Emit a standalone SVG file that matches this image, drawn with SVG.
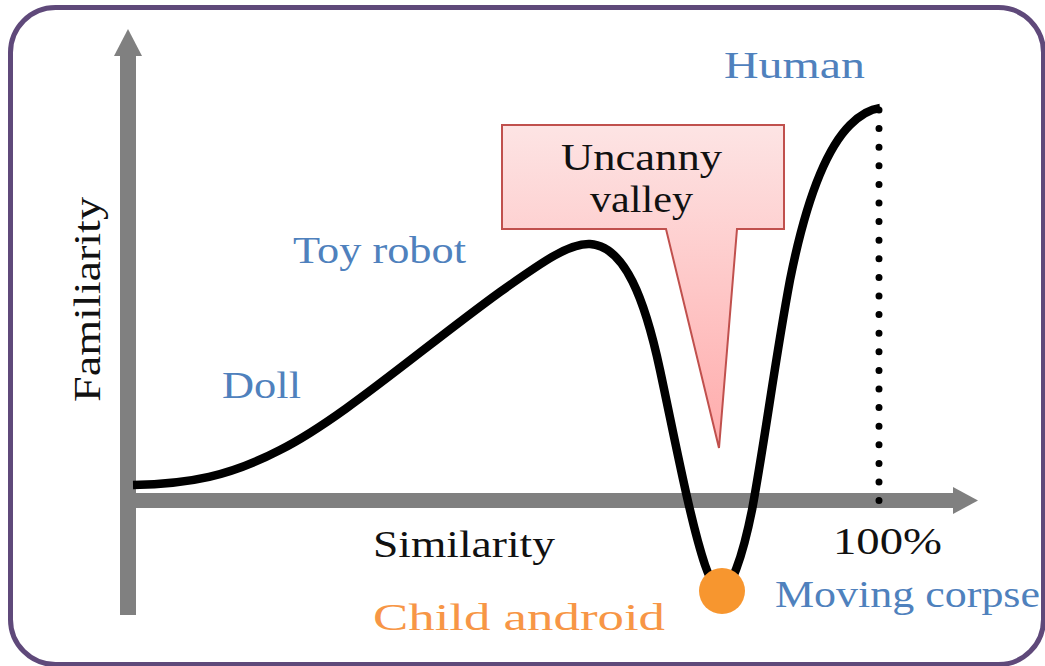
<svg xmlns="http://www.w3.org/2000/svg" width="1045" height="666" viewBox="0 0 1045 666">
<defs>
<style>
.lbl{font-family:"Liberation Serif","Times New Roman",serif;font-size:38px}
.blue{fill:#4f81bd}
.blk{fill:#111}
.orng{fill:#f79646}
.axis{fill:#808080}
</style>
<linearGradient id="callGrad" x1="0" y1="125" x2="0" y2="448" gradientUnits="userSpaceOnUse">
<stop offset="0" stop-color="#fde4e4"/>
<stop offset="1" stop-color="#ffabab"/>
</linearGradient>
</defs>
<rect x="0" y="0" width="1045" height="666" fill="#ffffff"/>
<rect id="frame" x="10.5" y="7.5" width="1033" height="657" rx="45" fill="#ffffff" stroke="#5f497a" stroke-width="5"/>

<g id="axes">
<rect class="axis" x="120" y="56" width="16" height="559"/>
<polygon class="axis" points="128,29 142,56 114,56"/>
<rect class="axis" x="120" y="493" width="835" height="15"/>
<polygon class="axis" points="953,487 978,500.5 953,514"/>
</g>

<g id="connectors">
<line x1="879" y1="110" x2="879" y2="502" stroke="#000" stroke-width="7" stroke-linecap="round" stroke-dasharray="0 18.6"/>
<path d="M133,485 C190,484 230,476 280,450 C340,420 420,350 500,292 C545,260 570,243 590,244 C625,246 645,300 660,370 C675,440 690,520 705,565 C712,585 718,592 722,591 C730,590 742,560 752,510 C765,440 775,360 790,280 C805,205 825,150 850,125 C862,113 872,109 880,108" fill="none" stroke="#000" stroke-width="8.5" stroke-linecap="butt" stroke-linejoin="round"/>
</g>

<g id="callout">
<path d="M502,125 H784 V229 H737 L719,448 L666,229 H502 Z" fill="url(#callGrad)" stroke="#c0504d" stroke-width="2"/>
<text class="lbl blk" x="561" y="170" textLength="161" lengthAdjust="spacingAndGlyphs">Uncanny</text>
<text class="lbl blk" x="590" y="212" textLength="103" lengthAdjust="spacingAndGlyphs">valley</text>
</g>

<g id="child-android">
<circle cx="722" cy="591" r="23" fill="#f7962f"/>
<text class="lbl orng" x="373" y="630" textLength="292" lengthAdjust="spacingAndGlyphs">Child android</text>
</g>

<g id="human">
<text class="lbl blue" x="724" y="78" textLength="141" lengthAdjust="spacingAndGlyphs">Human</text>
</g>
<g id="toy-robot">
<text class="lbl blue" x="293" y="263" textLength="173" lengthAdjust="spacingAndGlyphs">Toy robot</text>
</g>
<g id="doll">
<text class="lbl blue" x="222" y="398" textLength="79" lengthAdjust="spacingAndGlyphs">Doll</text>
</g>
<g id="moving-corpse">
<text class="lbl blue" x="775" y="607" textLength="265" lengthAdjust="spacingAndGlyphs">Moving corpse</text>
</g>
<g id="axis-labels">
<text class="lbl blk" transform="translate(100,402) rotate(-90)" x="0" y="0" textLength="205" lengthAdjust="spacingAndGlyphs">Familiarity</text>
<text class="lbl blk" x="373" y="557" textLength="182" lengthAdjust="spacingAndGlyphs">Similarity</text>
<text class="lbl blk" x="833" y="554" textLength="109" lengthAdjust="spacingAndGlyphs">100%</text>
</g>
</svg>
